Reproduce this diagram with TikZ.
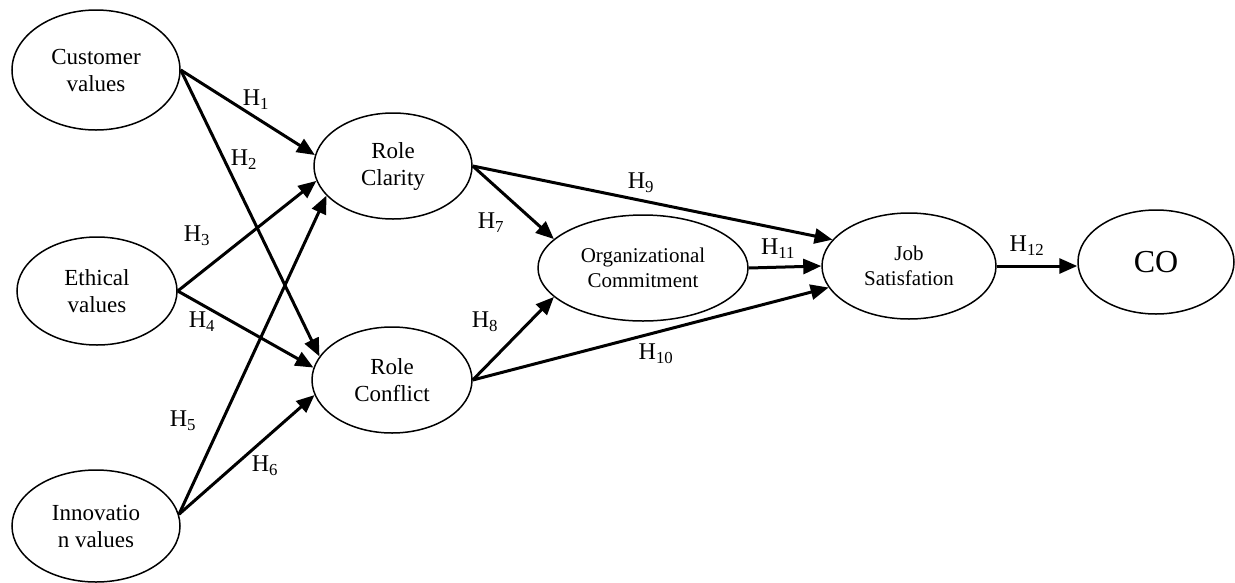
\documentclass[tikz,border=0pt]{standalone}
\usepackage{fontspec}
\setmainfont{Liberation Serif}
\usetikzlibrary{shapes.geometric,arrows.meta}
\begin{document}
\begin{tikzpicture}[x=1pt,y=-1pt,
  var/.style={ellipse,draw,line width=1.5pt,inner sep=0pt,align=center,font=\fontsize{23}{27}\selectfont},
  path/.style={line width=3pt,-{Triangle[length=18pt,width=15pt]}},
  hlab/.style={font=\fontsize{24}{28}\selectfont,inner sep=0pt}]
\useasboundingbox[fill=white] (0,0) rectangle (1235,582);
\node[var,minimum width=168pt,minimum height=120pt] (cv) at (96,70) {Customer\\values};
\node[var,minimum width=160pt,minimum height=108pt] (ev) at (97,291) {Ethical\\values};
\node[var,minimum width=168pt,minimum height=112pt] (iv) at (96,526) {Innovatio\\n values};
\node[var,minimum width=158pt,minimum height=106pt] (rc) at (393,166) {Role\\Clarity};
\node[var,minimum width=160pt,minimum height=106pt] (rf) at (392,380) {Role\\Conflict};
\node[var,minimum width=210pt,minimum height=106pt,font=\fontsize{21}{25}\selectfont] (oc) at (643,268) {Organizational\\Commitment};
\node[var,minimum width=174pt,minimum height=106pt,font=\fontsize{21}{25}\selectfont] (js) at (909,266) {Job\\Satisfation};
\node[var,minimum width=156pt,minimum height=104pt,font=\fontsize{32}{36}\selectfont] (co) at (1156,262) {CO};
\draw[path] (cv.east) -- (rc.172);
\draw[path] (cv.east) -- (rf.162);
\draw[path] (ev.east) -- (rc.191);
\draw[path] (ev.east) -- (rf.171);
\draw[path] (iv.8) -- (rc.204);
\draw[path] (iv.8) -- (rf.191);
\draw[path] (rc.east) -- (oc.162);
\draw[path] (rf.east) -- (oc.198);
\draw[path] (rc.east) -- (js.161);
\draw[path] (rf.east) -- (js.195);
\draw[path] (oc.east) -- (js.west);
\draw[path] (js.east) -- (js.east -| co.west);
\node[hlab] (h1) at (256,100) {H\textsubscript{1}};
\node[hlab] (h2) at (244,160) {H\textsubscript{2}};
\node[hlab] (h3) at (197,236) {H\textsubscript{3}};
\node[hlab] (h4) at (202,322) {H\textsubscript{4}};
\node[hlab] (h5) at (183,421) {H\textsubscript{5}};
\node[hlab] (h6) at (265,466) {H\textsubscript{6}};
\node[hlab] (h7) at (491,223) {H\textsubscript{7}};
\node[hlab] (h8) at (485,322) {H\textsubscript{8}};
\node[hlab] (h9) at (641,183) {H\textsubscript{9}};
\node[hlab] (h10) at (656,354) {H\textsubscript{10}};
\node[hlab] (h11) at (778,249) {H\textsubscript{11}};
\node[hlab] (h12) at (1027,246) {H\textsubscript{12}};
\end{tikzpicture}
\end{document}
